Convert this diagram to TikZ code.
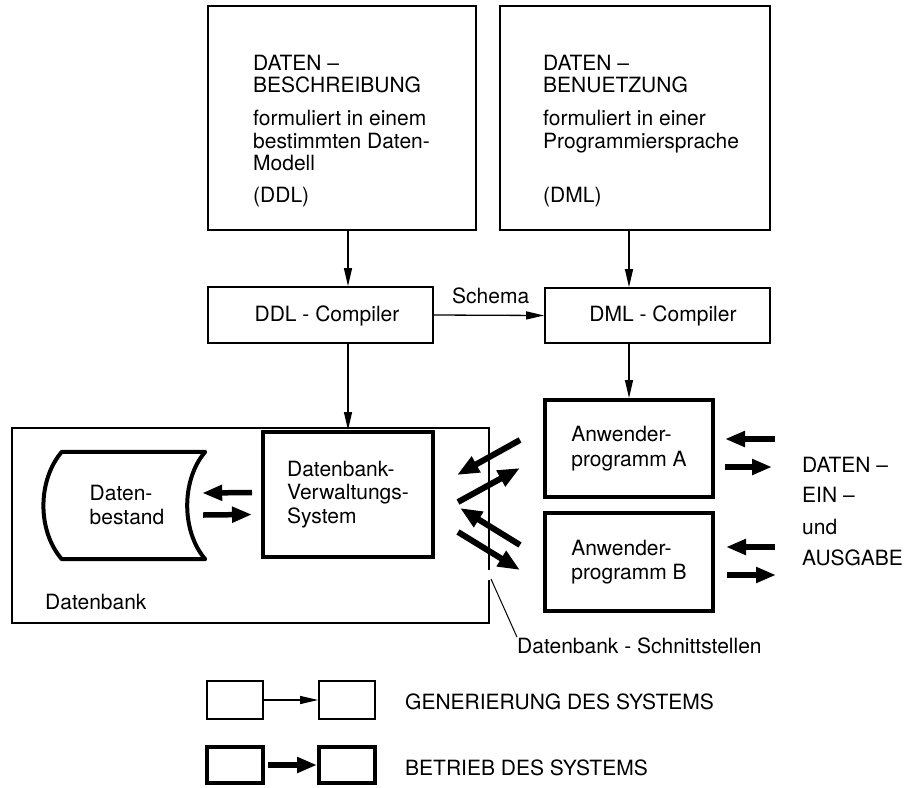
\documentclass[tikz,border=0pt]{standalone}
\usepackage{fontspec}
\setmainfont{TeX Gyre Heros}
\usetikzlibrary{arrows.meta,calc}
\begin{document}
\begin{tikzpicture}[x=1pt,y=-1pt,font=\fontsize{21}{25}\selectfont]
\tikzset{
 lbl/.style={inner sep=0pt},
 thinbox/.style={draw, line width=1.8pt, inner sep=0pt},
 thickbox/.style={draw, line width=4pt, inner sep=0pt},
 conn/.style={line width=1.3pt, -{Triangle[length=18pt,width=8pt]}},
 bigarrow/.style={line width=5.5pt, -{Triangle[length=20pt,width=15pt]}},
 diagarrow/.style={line width=6pt, -{Triangle[length=22pt,width=17pt]}},
 frameline/.style={line width=1.3pt},
 leader/.style={line width=1pt},
 multi/.style={align=left, font=\fontsize{21}{24.5}\selectfont},
}
\useasboundingbox (0,0) rectangle (912,787);

% top boxes
\node[thinbox, minimum width=268pt, minimum height=224pt] (b1) at (342,118) {};
\node[lbl, anchor=base west] (b1l1) at (253,70) {DATEN –};
\node[lbl, anchor=base west] (b1l2) at (253,92) {BESCHREIBUNG};
\node[lbl, anchor=base west] (b1l3) at (253,125) {formuliert in einem};
\node[lbl, anchor=base west] (b1l4) at (253,148) {bestimmten Daten-};
\node[lbl, anchor=base west] (b1l5) at (253,170) {Modell};
\node[lbl, anchor=base west] (b1l6) at (253,202) {(DDL)};

\node[thinbox, minimum width=270pt, minimum height=224pt] (b2) at (635,118) {};
\node[lbl, anchor=base west] (b2l1) at (543,70) {DATEN –};
\node[lbl, anchor=base west] (b2l2) at (543,92) {BENUETZUNG};
\node[lbl, anchor=base west] (b2l3) at (543,125) {formuliert in einer};
\node[lbl, anchor=base west] (b2l4) at (543,148) {Programmiersprache};
\node[lbl, anchor=base west] (b2l6) at (543,202) {(DML)};

% compilers
\node[thinbox, minimum width=225pt, minimum height=56pt] (ddl) at (320.5,315) {};
\node[lbl] (ddlt) at (327,316) {DDL - Compiler};
\node[thinbox, minimum width=225pt, minimum height=55pt] (dml) at (657.5,315.5) {};
\node[lbl] (dmlt) at (663,316) {DML - Compiler};
\node[lbl, anchor=base west] (schema) at (452,303) {Schema};

% Datenbank frame
\coordinate (fr1) at (489,570);
\coordinate (fr2) at (489,580);
\coordinate (frNE) at (489,428);
\coordinate (frNW) at (12,428);
\coordinate (frSW) at (12,623);
\coordinate (frSE) at (489,623);
\draw[frameline] (fr1) -- (frNE) -- (frNW) -- (frSW) -- (frSE) -- (fr2);
\node[lbl, anchor=base west] (dbl) at (45,609) {Datenbank};

% DVS
\node[thickbox, multi, minimum width=170pt, minimum height=125pt, font=\fontsize{21}{23.5}\selectfont] (dvs) at (348,494.5) {Datenbank-\\Verwaltungs-\\System};

% Datenbestand
\node[minimum width=143pt, minimum height=107pt] (dbst) at (133.5,505.5) {};
\draw[line width=4pt, line join=round]
  (dbst.north west) -- (dbst.north east)
  .. controls ($(dbst.north east)+(-24,28)$) and ($(dbst.south east)+(-24,-28)$) .. (dbst.south east)
  -- (dbst.south west)
  .. controls ($(dbst.south west)+(-25,-29)$) and ($(dbst.north west)+(-24,28)$) .. cycle;
\node[lbl, multi] (dbsttext) at (127,505) {Daten-\\bestand};

% Anwenderprogramme
\node[thickbox, multi, minimum width=168pt, minimum height=97pt] (anwA) at (629,448.5) {Anwender-\\programm A};
\node[thickbox, multi, minimum width=168pt, minimum height=98pt] (anwB) at (629,562) {Anwender-\\programm B};

% thin connectors
\draw[conn] (b1.south -| dvs.north) -- (ddl.north -| dvs.north);
\draw[conn] (b2.south -| anwA.north) -- (dml.north -| anwA.north);
\draw[conn] (ddl.east) -- (dml.west);
\draw[conn] (ddl.south -| dvs.north) -- (dvs.north);
\draw[conn] (dml.south -| anwA.north) -- (anwA.north);

% Datenbestand <-> DVS
\draw[bigarrow] ($(dvs.west)+(-9,-2)$) -- ($(dbst.east)+(-3,-12.5)$);
\draw[bigarrow] ($(dbst.east)+(-2,9.5)$) -- ($(dvs.west)+(-9,20)$);

% DVS <-> Anwenderprogramme
\draw[diagarrow] ($(anwA.west)+(-23,-8.5)$) -- ($(dvs.east)+(22,-19.5)$);
\draw[diagarrow] ($(dvs.east)+(23,7.5)$) -- ($(anwA.west)+(-23,19.5)$);
\draw[diagarrow] ($(anwB.west)+(-23,-17)$) -- ($(dvs.east)+(25,13.5)$);
\draw[diagarrow] ($(dvs.east)+(23,37.5)$) -- ($(anwB.west)+(-23,8)$);

% Daten Ein- und Ausgabe
\draw[bigarrow] ($(anwA.east)+(60,-9.5)$) -- ($(anwA.east)+(10,-9.5)$);
\draw[bigarrow] ($(anwA.east)+(10,18.5)$) -- ($(anwA.east)+(57,18.5)$);
\draw[bigarrow] ($(anwB.east)+(60,-15)$) -- ($(anwB.east)+(11,-15)$);
\draw[bigarrow] ($(anwB.east)+(12,13)$) -- ($(anwB.east)+(61,13)$);
\node[lbl, anchor=base west] (io1) at (802,472.5) {DATEN –};
\node[lbl, anchor=base west] (io2) at (802,502.5) {EIN –};
\node[lbl, anchor=base west] (io3) at (802,534.5) {und};
\node[lbl, anchor=base west] (io4) at (802,565.5) {AUSGABE};

% Schnittstellen label
\coordinate (gapc) at (491,579);
\node[lbl, anchor=base west] (schn) at (517,653) {Datenbank - Schnittstellen};
\draw[leader] (gapc) -- (schn.north west);

% legend
\node[thinbox, minimum width=56pt, minimum height=38pt] (g1) at (235,700) {};
\node[thinbox, minimum width=56pt, minimum height=38pt] (g2) at (347,700) {};
\draw[conn] (g1) -- (g2);
\node[lbl, anchor=base west] (gtext) at (405,709) {GENERIERUNG DES SYSTEMS};
\node[thickbox, minimum width=56pt, minimum height=36pt] (t1) at (235,765) {};
\node[thickbox, minimum width=56pt, minimum height=36pt] (t2) at (347,765) {};
\draw[bigarrow] ($(t1.east)+(3,0)$) -- (t2.west);
\node[lbl, anchor=base west] (ttext) at (405,775) {BETRIEB DES SYSTEMS};
\end{tikzpicture}
\end{document}
